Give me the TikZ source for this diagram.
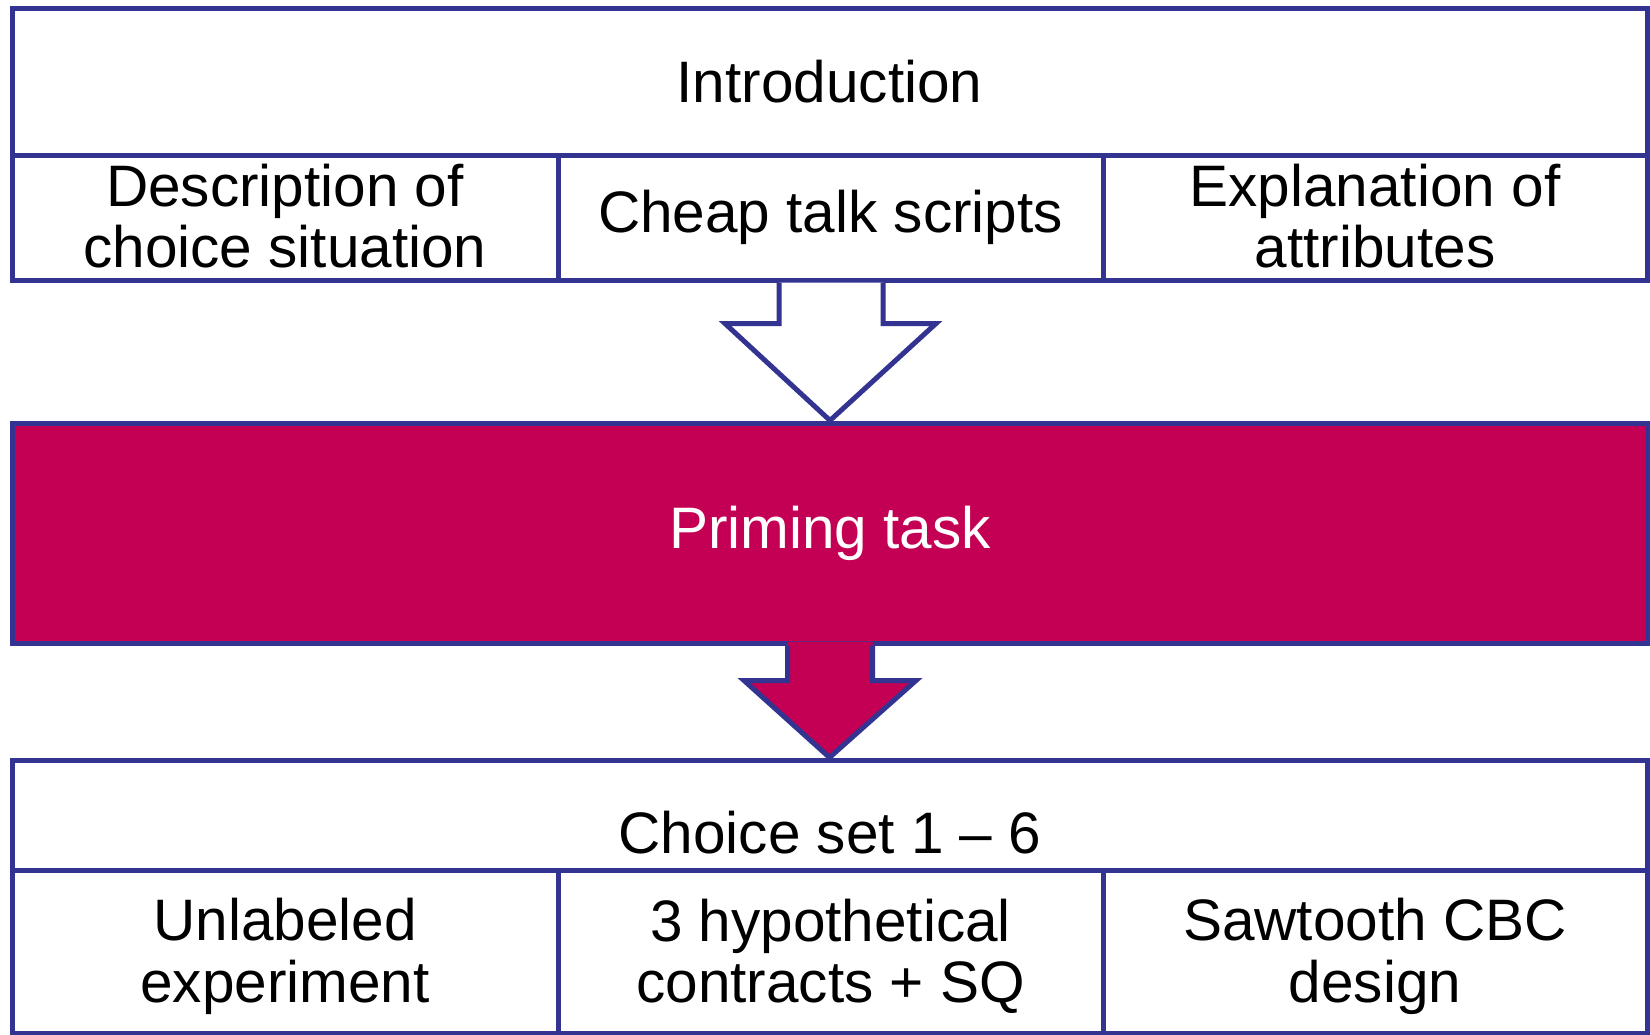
\documentclass[tikz,border=0pt]{standalone}
\usepackage{fontspec}
\setmainfont{Liberation Sans}
\usetikzlibrary{calc}
\definecolor{bl}{RGB}{51,51,145}
\definecolor{mg}{RGB}{196,0,85}
\begin{document}
\begin{tikzpicture}[x=1pt,y=-1pt,
  box/.style={draw=bl,line width=5pt,inner sep=0pt,align=center,
    font=\fontsize{58.5}{61.5}\selectfont},
  txt/.style={inner sep=0pt,align=center,font=\fontsize{58.5}{61.5}\selectfont},
  arr/.style={draw=bl,line width=5pt}]
\useasboundingbox (0,0) rectangle (1650,1034);
% top group
\node[box,minimum width=1635pt,minimum height=147pt] (intro) at (829.5,81.5) {Introduction};
\node[box,minimum width=546pt,minimum height=125pt,
  label={[txt,yshift=1.5pt]center:{Description of\\choice situation}}] (desc) at (285,217.5) {};
\node[box,minimum width=545pt,minimum height=125pt] (cheap) at (830.5,217.5) {Cheap talk scripts};
\node[box,minimum width=544pt,minimum height=125pt,
  label={[txt,yshift=1.5pt]center:{Explanation of\\attributes}}] (expl) at (1375,217.5) {};
% priming
\node[box,fill=mg,text=white,minimum width=1636pt,minimum height=220pt] (prime) at (830,533) {Priming task};
% arrow 1
\filldraw[arr,fill=white] ($(cheap.south)+(-51.5,0)$) -- ($(cheap.south)+(-51.5,41)$)
  -- ($(cheap.south)+(-105.5,41)$) -- (prime.north) -- ($(cheap.south)+(105.5,41)$)
  -- ($(cheap.south)+(52.5,41)$) -- ($(cheap.south)+(52.5,0)$);
% bottom group
\node[box,minimum width=1635pt,minimum height=110pt] (choice) at (829.5,815) {};
\node[txt] (choicetxt) at (830,833) {Choice set 1 -- 6};
\node[box,minimum width=546pt,minimum height=163pt,
  label={[txt,yshift=-5pt]center:{Unlabeled\\experiment}}] (unlab) at (285,951.5) {};
\node[box,minimum width=545pt,minimum height=163pt,
  label={[txt,yshift=-5pt]center:{3 hypothetical\\contracts + SQ}}] (hyp) at (830.5,951.5) {};
\node[box,minimum width=544pt,minimum height=163pt,
  label={[txt,yshift=-5pt]center:{Sawtooth CBC\\design}}] (saw) at (1375,951.5) {};
% arrow 2
\fill[mg] ($(prime.south)+(-42.5,-4)$) -- ($(prime.south)+(-42.5,35)$)
  -- ($(prime.south)+(-86,35)$) -- (choice.north) -- ($(prime.south)+(86,35)$)
  -- ($(prime.south)+(42.5,35)$) -- ($(prime.south)+(42.5,-4)$) -- cycle;
\draw[arr] ($(prime.south)+(-42.5,0)$) -- ($(prime.south)+(-42.5,35)$)
  -- ($(prime.south)+(-86,35)$) -- (choice.north) -- ($(prime.south)+(86,35)$)
  -- ($(prime.south)+(42.5,35)$) -- ($(prime.south)+(42.5,0)$);
\end{tikzpicture}
\end{document}
